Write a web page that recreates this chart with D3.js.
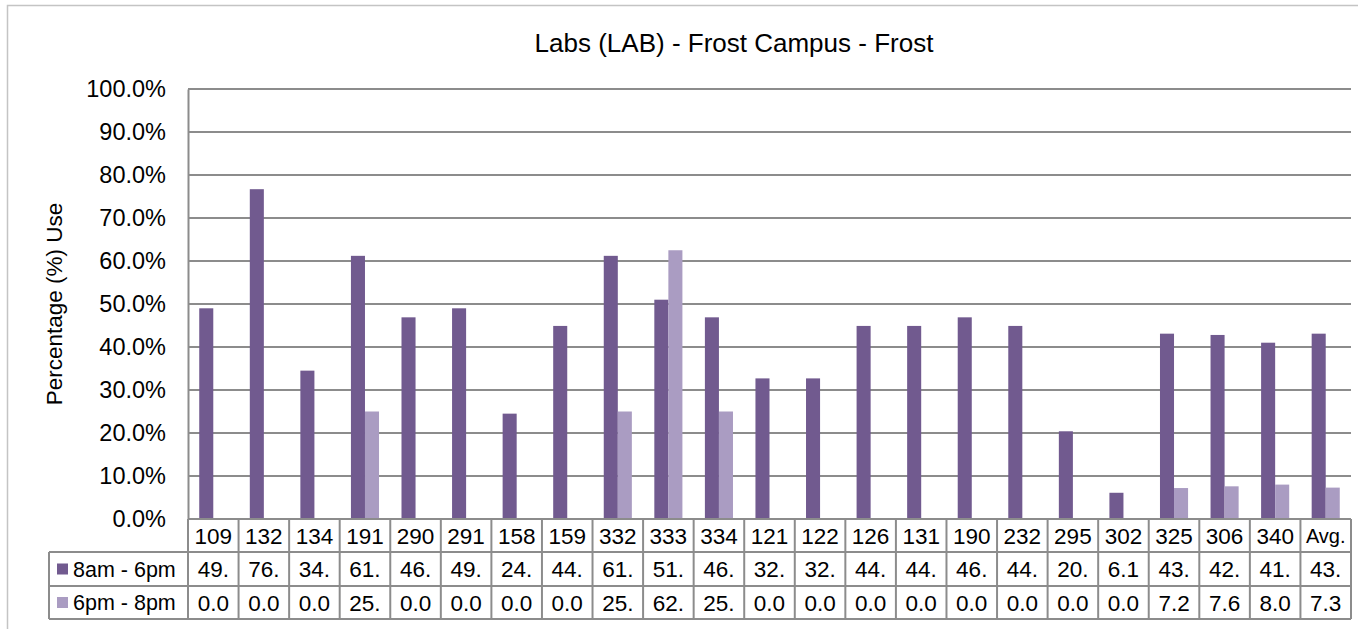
<!DOCTYPE html>
<html>
<head>
<meta charset="utf-8">
<script src="https://cdn.jsdelivr.net/npm/d3@7"></script>
<style>
  body { margin: 0; background: #fff; }
  text { font-family: "Liberation Sans", Arial, sans-serif; fill: #000; }
</style>
</head>
<body>
<svg id="chart"></svg>
<script>
// Dữ liệu
const rooms = ["109", "132", "134", "191", "290", "291", "158", "159", "332", "333", "334", "121",
               "122", "126", "131", "190", "232", "295", "302", "325", "306", "340", "Avg."];
const seriesNames = ["8am - 6pm", "6pm - 8pm"];
const dayUse = [49.0, 76.7, 34.5, 61.2, 46.9, 49.0, 24.5, 44.9, 61.2, 51.0, 46.9, 32.7,
                32.7, 44.9, 44.9, 46.9, 44.9, 20.4, 6.1, 43.1, 42.8, 41.0, 43.1];
const eveningUse = [0.0, 0.0, 0.0, 25.0, 0.0, 0.0, 0.0, 0.0, 25.0, 62.5, 25.0, 0.0,
                    0.0, 0.0, 0.0, 0.0, 0.0, 0.0, 0.0, 7.2, 7.6, 8.0, 7.3];
const yTicks = [0, 10, 20, 30, 40, 50, 60, 70, 80, 90, 100];
const colors = ["#715a8f", "#aa9cc2"];

const W = 1358, H = 629;
const margin = { top: 89, right: 7, bottom: 110, left: 188 };
const width = W - margin.left - margin.right,
      height = H - margin.top - margin.bottom;

const svg = d3.select("#chart").attr("width", W).attr("height", H);

// khung ngoài
svg.append("rect")
    .attr("x", 7.5).attr("y", 5.5)
    .attr("width", W + 10).attr("height", H + 10)
    .attr("fill", "none").attr("stroke", "#c4c4c4").attr("stroke-width", 1.5);

const g = svg.append("g").attr("transform", `translate(${margin.left},${margin.top})`);

const x0 = d3.scaleBand().domain(rooms).range([0, width]).padding(0);
const x1 = d3.scaleBand().domain(seriesNames).range([0, x0.bandwidth()]).paddingInner(0).paddingOuter(0.8);
const y = d3.scaleLinear().domain([0, 100]).range([height, 0]);

const gridColor = "#8c8c8c";

// lưới ngang
g.append("g").selectAll("line").data(yTicks.filter(d => d > 0)).join("line")
    .attr("x1", 0).attr("x2", width)
    .attr("y1", d => y(d)).attr("y2", d => y(d))
    .attr("stroke", gridColor).attr("stroke-width", 2);

// trục Y
const yAxis = g.append("g")
    .call(d3.axisLeft(y).tickValues(yTicks).tickFormat(d => d3.format(".1f")(d) + "%").tickSize(0).tickPadding(22));
yAxis.select(".domain").attr("stroke", gridColor).attr("stroke-width", 2);
yAxis.selectAll("text").style("font-size", "23.5px").style("font-family", "Liberation Sans, Arial, sans-serif");

// cột
const series = [dayUse, eveningUse];
const bars = g.append("g");
rooms.forEach((r, i) => {
    series.forEach((vals, s) => {
        bars.append("rect")
            .attr("x", x0(r) + x1(seriesNames[s]))
            .attr("y", y(vals[i]))
            .attr("width", x1.bandwidth())
            .attr("height", height - y(vals[i]))
            .attr("fill", colors[s]);
    });
});

// bảng dữ liệu
const rowH = [33, 34, 33];
const rowY = [height, height + rowH[0], height + rowH[0] + rowH[1]];
const tableBottom = rowY[2] + rowH[2];
const legendLeft = 49 - margin.left;
const table = g.append("g");
const fmt = v => d3.format(".1f")(v).slice(0, 3);

// đường kẻ ngang
table.append("line").attr("x1", 0).attr("x2", width).attr("y1", rowY[0]).attr("y2", rowY[0]);
[rowY[1], rowY[2], tableBottom].forEach(yy => {
    table.append("line").attr("x1", legendLeft).attr("x2", width).attr("y1", yy).attr("y2", yy);
});
// đường kẻ dọc
rooms.forEach(r => {
    table.append("line").attr("x1", x0(r)).attr("x2", x0(r)).attr("y1", rowY[0]).attr("y2", tableBottom);
});
table.append("line").attr("x1", width).attr("x2", width).attr("y1", rowY[0]).attr("y2", tableBottom);
table.append("line").attr("x1", legendLeft).attr("x2", legendLeft).attr("y1", rowY[1]).attr("y2", tableBottom);
table.selectAll("line").attr("stroke", gridColor).attr("stroke-width", 2);

// nhãn phòng
table.selectAll(".room").data(rooms).join("text")
    .attr("x", d => x0(d) + x0.bandwidth() / 2)
    .attr("y", rowY[0] + rowH[0] / 2)
    .attr("dy", "0.36em")
    .attr("text-anchor", "middle")
    .style("font-size", d => d === "Avg." ? "20px" : "22.5px")
    .text(d => d);

series.forEach((vals, s) => {
    const ry = rowY[s + 1] + rowH[s + 1] / 2;
    table.selectAll(".v" + s).data(vals).join("text")
        .attr("x", (d, i) => x0(rooms[i]) + x0.bandwidth() / 2)
        .attr("y", ry)
        .attr("dy", "0.36em")
        .attr("text-anchor", "middle")
        .style("font-size", "22.5px")
        .text(d => fmt(d));

    table.append("rect")
        .attr("x", legendLeft + 8).attr("y", ry - 5.5)
        .attr("width", 11).attr("height", 11)
        .attr("fill", colors[s]);
    table.append("text")
        .attr("x", legendLeft + 24).attr("y", ry)
        .attr("dy", "0.36em")
        .style("font-size", "21.5px")
        .text(seriesNames[s]);
});

// tiêu đề
svg.append("text")
    .attr("x", 734).attr("y", 52)
    .attr("text-anchor", "middle")
    .style("font-size", "26px")
    .text("Labs (LAB) - Frost Campus - Frost");

// tên trục Y
svg.append("text")
    .attr("transform", "translate(62,304) rotate(-90)")
    .attr("text-anchor", "middle")
    .style("font-size", "22.5px")
    .text("Percentage (%) Use");
</script>
</body>
</html>
